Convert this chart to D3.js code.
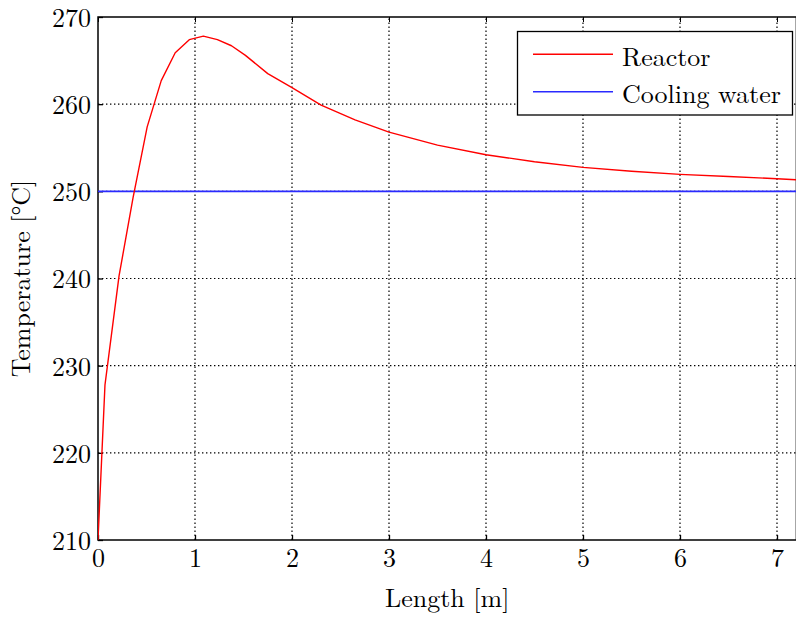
<!DOCTYPE html>
<html>
<head>
<meta charset="utf-8">
<style>
  body { margin: 0; background: #fff; }
  svg text { font-family: "Latin Modern Roman", "Liberation Serif", serif; fill: #000; }
</style>
</head>
<body>
<svg id="chart"></svg>
<script src="https://d3js.org/d3.v7.min.js"></script>
<script>
// reactor temperature profile along the tube
var lengthM = [0, 0.072, 0.217, 0.362, 0.507, 0.652, 0.796, 0.941, 1.086, 1.231, 1.376, 1.52, 1.75, 2.0, 2.3, 2.65, 3.0, 3.5, 4.0, 4.5, 5.0, 5.5, 6.0, 6.5, 7.0, 7.24];
var reactorT = [210, 227.8, 240.3, 249.3, 257.4, 262.7, 265.9, 267.4, 267.8, 267.4, 266.7, 265.6, 263.5, 261.9, 259.9, 258.2, 256.8, 255.3, 254.2, 253.4, 252.75, 252.3, 251.95, 251.7, 251.45, 251.3];
var coolingX = [0, 7.24];
var coolingT = [250, 250];
var xTicks = [0, 1, 2, 3, 4, 5, 6, 7];
var yTicks = [210, 220, 230, 240, 250, 260, 270];

var width = 796, height = 618;
var padding = {top: 17, right: 0, bottom: 78, left: 98};
var fontSize = 26;
var svg = d3.select("#chart").attr("width", width).attr("height", height);

var xScale = d3.scaleLinear().domain([0, 7.2]).range([padding.left, padding.left + 7.2 * 97]);
var yScale = d3.scaleLinear().domain([210, 270]).range([height - padding.bottom, padding.top]);
var x0 = xScale(0), x1 = xScale(7.2), y0 = yScale(210), y1 = yScale(270);

svg.append("defs").append("clipPath").attr("id", "clip")
  .append("rect").attr("x", x0).attr("y", y1).attr("width", x1 - x0).attr("height", y0 - y1);

// grid (dotted)
var grid = svg.append("g").attr("stroke", "#000").attr("stroke-width", 1.2).attr("stroke-dasharray", "1.4,2.6");
grid.selectAll(".gx").data(xTicks.filter(function(d){ return d > 0; })).enter().append("line")
  .attr("x1", function(d){ return xScale(d); }).attr("x2", function(d){ return xScale(d); })
  .attr("y1", y0).attr("y2", y1);
grid.selectAll(".gy").data(yTicks.filter(function(d){ return d > 210 && d < 270; })).enter().append("line")
  .attr("y1", function(d){ return yScale(d); }).attr("y2", function(d){ return yScale(d); })
  .attr("x1", x0).attr("x2", x1);

// axes with inward ticks
var xAxis = d3.axisBottom(xScale).tickValues(xTicks).tickSize(-5).tickPadding(0).tickFormat(d3.format("d"));
var gx = svg.append("g").attr("transform", "translate(0," + y0 + ")").call(xAxis);
var yAxis = d3.axisLeft(yScale).tickValues(yTicks).tickSize(-5).tickPadding(7).tickFormat(d3.format("d"));
var gy = svg.append("g").attr("transform", "translate(" + x0 + ",0)").call(yAxis);
svg.append("g").attr("transform", "translate(0," + y1 + ")")
  .call(d3.axisTop(xScale).tickValues(xTicks).tickSize(-5).tickFormat(""));
[gx, gy].forEach(function(g){
  g.selectAll("line").attr("stroke", "#000").attr("stroke-width", 1.3);
  g.selectAll("text").attr("font-size", fontSize);
});
gx.selectAll("text").attr("y", 26.5).attr("dy", null);
gy.selectAll("text").attr("x", -7).attr("dy", "0.36em");
svg.selectAll(".domain").remove();

// frame
svg.append("rect").attr("x", x0).attr("y", y1).attr("width", x1 - x0).attr("height", y0 - y1)
  .attr("fill", "none").attr("stroke", "#000").attr("stroke-width", 1.5);

// lines
var line = d3.line().x(function(d){ return xScale(d[0]); }).y(function(d){ return yScale(d[1]); });
var plotG = svg.append("g").attr("clip-path", "url(#clip)");
plotG.append("path").attr("d", line(d3.zip(coolingX, coolingT)))
  .attr("fill", "none").attr("stroke", "#2a2aff").attr("stroke-width", 1.6);
plotG.append("path").attr("d", line(d3.zip(lengthM, reactorT)))
  .attr("fill", "none").attr("stroke", "#ff0000").attr("stroke-width", 1.4).attr("stroke-linejoin", "round");

// axis labels
svg.append("text").attr("x", (x0 + x1) / 2).attr("y", 607.3).attr("text-anchor", "middle")
  .attr("font-size", fontSize).text("Length [m]");
svg.append("text").attr("transform", "translate(29.5," + ((y0 + y1) / 2) + ") rotate(-90)")
  .attr("text-anchor", "middle").attr("font-size", fontSize).text("Temperature [°C]");

// legend
var leg = svg.append("g");
leg.append("rect").attr("x", 517.5).attr("y", 31.5).attr("width", 275).attr("height", 83.5)
  .attr("fill", "#fff").attr("stroke", "#000").attr("stroke-width", 1.3);
var legItems = [["Reactor", "#ff0000", 54.3], ["Cooling water", "#2a2aff", 91.7]];
legItems.forEach(function(it){
  leg.append("line").attr("x1", 533).attr("x2", 613).attr("y1", it[2]).attr("y2", it[2])
    .attr("stroke", it[1]).attr("stroke-width", 1.5);
  leg.append("text").attr("x", 622).attr("y", it[2] + 11.2)
    .attr("font-size", fontSize).text(it[0]);
});
</script>
</body>
</html>
